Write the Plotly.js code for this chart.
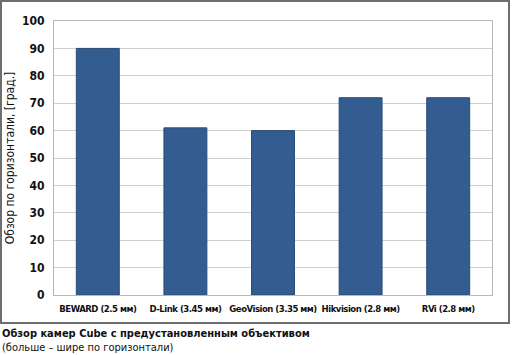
<!DOCTYPE html>
<html><head><meta charset="utf-8">
<script src="https://cdn.plot.ly/plotly-3.0.1.min.js"></script>
<style>html,body{margin:0;padding:0;background:#fff;}#chart{width:512px;height:355px;}
svg text{font-stretch:condensed !important;}
.xtick text{letter-spacing:-0.5px;}</style>
</head><body><div id="chart"></div>
<script>
const categories = ["BEWARD (2.5 мм)", "D-Link (3.45 мм)", "GeoVision (3.35 мм)", "Hikvision (2.8 мм)", "RVi (2.8 мм)"];
const values = [90, 61, 60, 72, 72];
const yTicks = [0, 10, 20, 30, 40, 50, 60, 70, 80, 90, 100];
const yTitle = "Обзор по горизонтали, [град.]";
const caption1 = "Обзор камер Cube с предустановленным объективом";
const caption2 = "(больше – шире по горизонтали)";

const FONT = "'DejaVu Sans Condensed', 'DejaVu Sans', sans-serif";
const L = 54, R = 492, T = 21, B = 295, W = 512, H = 355;
const px = x => (x - L) / (R - L);
const py = y => (B - y) / (B - T);

const trace = {
  type: 'bar', x: categories, y: values,
  marker: {color: '#335c91', line: {color: '#2a4a75', width: 1}},
  hoverinfo: 'skip'
};
const layout = {
  width: W, height: H,
  margin: {l: L, r: W - R, t: T, b: H - B},
  paper_bgcolor: '#ffffff', plot_bgcolor: '#ffffff',
  bargap: 0.51,
  showlegend: false,
  font: {family: FONT, color: '#111'},
  xaxis: {
    tickangle: 0,
    tickfont: {family: FONT, size: 9.5, color: '#111', weight: 'bold'},
    showline: true, linecolor: '#b8b8b8', linewidth: 1, mirror: true,
    ticks: 'outside', ticklen: 5, tickcolor: 'rgba(0,0,0,0)',
    showgrid: false, fixedrange: true
  },
  yaxis: {
    range: [0, 100], tickvals: yTicks, ticktext: yTicks.map(String),
    tickfont: {family: FONT, size: 12, color: '#111', weight: 'bold'},
    showline: true, linecolor: '#b8b8b8', linewidth: 1, mirror: true,
    gridcolor: '#cfcfcf', gridwidth: 1, zeroline: false,
    ticks: 'outside', ticklen: 6, tickcolor: 'rgba(0,0,0,0)',
    title: {text: yTitle, font: {family: FONT, size: 12, color: '#111'}, standoff: 4},
    fixedrange: true
  },
  shapes: [{
    type: 'rect', xref: 'paper', yref: 'paper',
    x0: px(1), x1: px(509), y0: py(323), y1: py(1),
    line: {color: '#6e6e6e', width: 2}, layer: 'below'
  }],
  annotations: [
    {xref: 'paper', yref: 'paper', x: px(1), y: py(326), xanchor: 'left', yanchor: 'top', align: 'left',
     borderpad: 0,
     text: '<b>' + caption1 + '</b><br>' + caption2, showarrow: false,
     font: {family: FONT, size: 11, color: '#111'}}
  ]
};
Plotly.newPlot('chart', [trace], layout, {displayModeBar: false, staticPlot: true});
</script></body></html>
